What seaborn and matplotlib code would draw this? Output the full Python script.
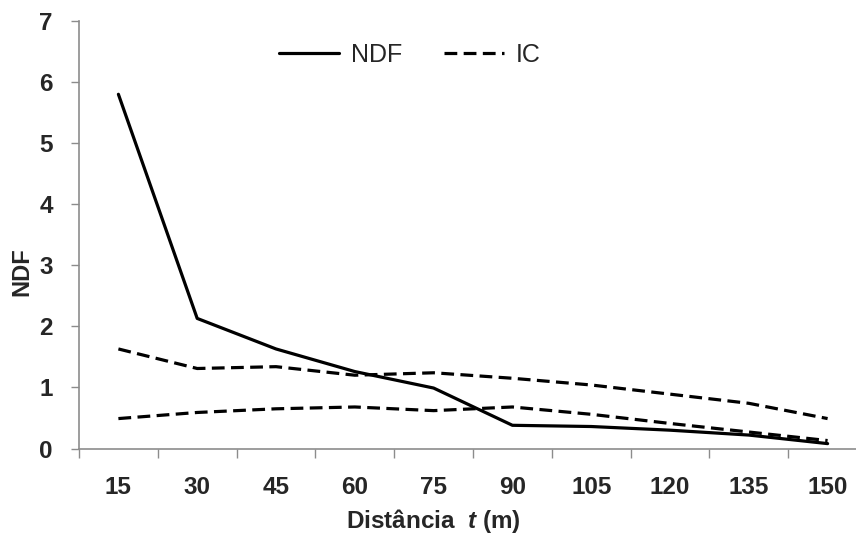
import matplotlib
matplotlib.use("Agg")
import matplotlib.pyplot as plt
import numpy as np
import pandas as pd
import seaborn as sns

# values
distances = [15, 30, 45, 60, 75, 90, 105, 120, 135, 150]
ndf = [5.80, 2.13, 1.63, 1.26, 0.99, 0.38, 0.36, 0.30, 0.22, 0.08]
ic_upper = [1.63, 1.31, 1.34, 1.20, 1.24, 1.15, 1.04, 0.89, 0.74, 0.49]
ic_lower = [0.49, 0.59, 0.65, 0.68, 0.62, 0.68, 0.56, 0.41, 0.27, 0.13]

sns.set_style("white")
plt.rcParams["font.family"] = ["Liberation Sans", "DejaVu Sans"]
plt.rcParams["mathtext.fontset"] = "custom"
plt.rcParams["mathtext.bfit"] = "Liberation Sans:bold:italic"
plt.rcParams["mathtext.rm"] = "Liberation Sans"

df = pd.DataFrame({
    "pos": np.arange(len(distances)),
    "NDF": ndf,
    "IC_sup": ic_upper,
    "IC_inf": ic_lower,
})

fig = plt.figure(figsize=(8.56, 5.36), dpi=100)
# axis runs past the right edge like in the reference
ax = fig.add_axes([79 / 856, 1 - 448.5 / 536, 788 / 856, 427.5 / 536])

lw = 2.3
sns.lineplot(data=df, x="pos", y="NDF", ax=ax, color="black", lw=lw, label="NDF")
sns.lineplot(data=df, x="pos", y="IC_sup", ax=ax, color="black", lw=lw,
             label="IC").lines[-1].set_dashes([4, 2])
sns.lineplot(data=df, x="pos", y="IC_inf", ax=ax, color="black", lw=lw,
             label="_nolegend_").lines[-1].set_dashes([4, 2])

ax.set_xlim(-0.5, 9.5)
ax.set_ylim(0, 7)
ax.set_yticks(range(0, 8))
# tick marks sit between categories, labels under each category
ax.set_xticks(np.arange(-0.5, 9.5, 1.0), minor=False)
ax.set_xticklabels([])
ax.set_xticks(df["pos"], minor=True)
ax.set_xticklabels([str(d) for d in distances], minor=True)

ax.tick_params(axis="x", which="major", direction="out", length=6.5, width=1,
               color="#8c8c8c", bottom=True)
ax.tick_params(axis="x", which="minor", length=0, pad=20, labelsize=17.5)
ax.tick_params(axis="y", direction="out", length=5.8, width=1, color="#8c8c8c",
               left=True, pad=13, labelsize=17.5)
for lab in ax.get_xticklabels(minor=True) + ax.get_yticklabels():
    lab.set_fontweight("bold")

for side in ["top", "right"]:
    ax.spines[side].set_visible(False)
for side in ["left", "bottom"]:
    ax.spines[side].set_color("#8c8c8c")
    ax.spines[side].set_linewidth(1.2)

ax.set_ylabel("NDF", fontsize=17, fontweight="bold")
ax.yaxis.set_label_coords(-0.058, 0.413)
ax.set_xlabel("Distância  $\\mathbfit{t}$ (m)", fontsize=17.5, fontweight="bold")
ax.xaxis.set_label_coords(0.449, -0.138)

leg = ax.legend(loc="center", bbox_to_anchor=(0.42, 0.92), ncol=2, frameon=False,
                fontsize=18, handlelength=2.4, handletextpad=0.45,
                columnspacing=1.7)
for h in leg.legend_handles:
    h.set_linewidth(lw)

fig.savefig("out.png", dpi=100)
